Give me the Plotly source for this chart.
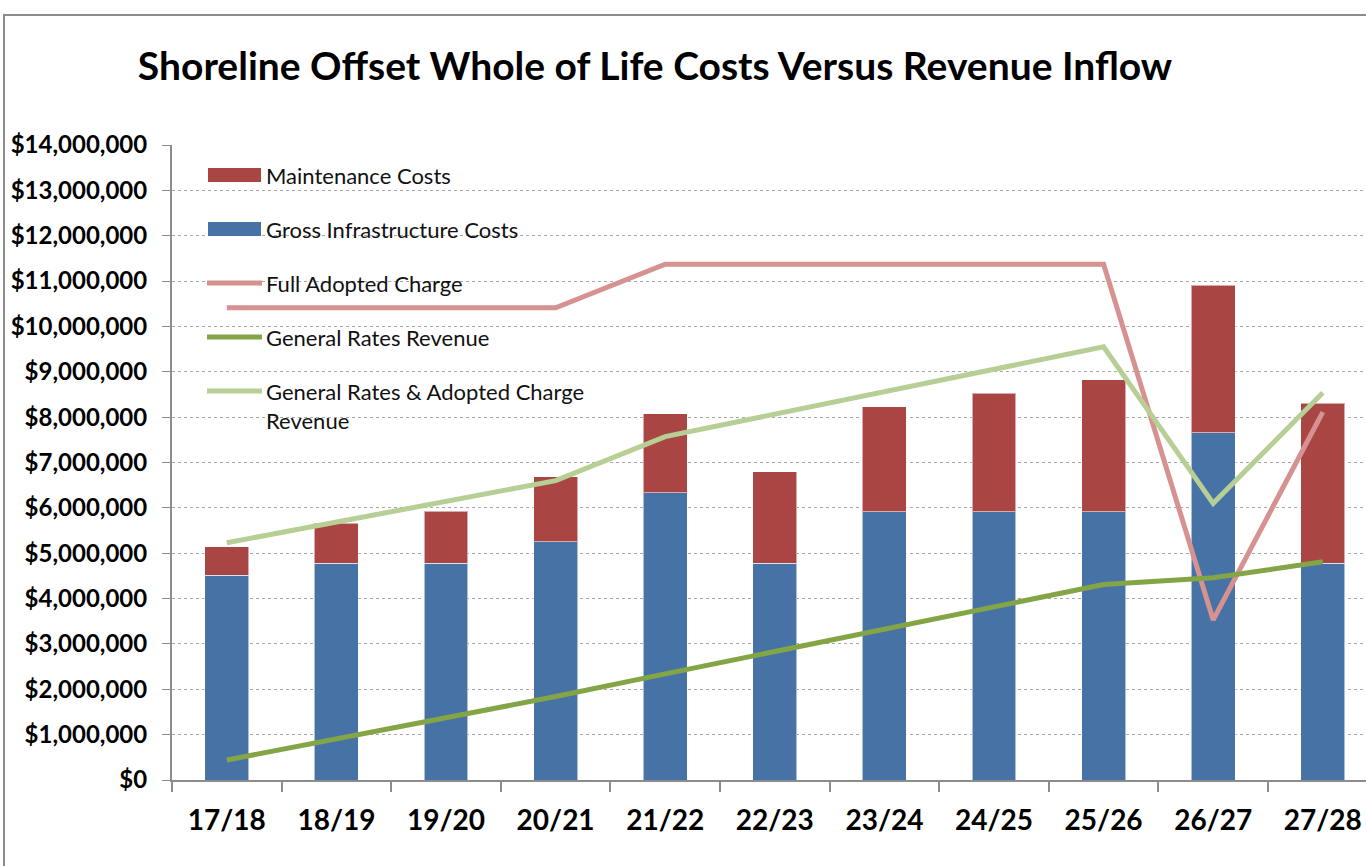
import plotly.graph_objects as go

# Financial years
years = ["17/18", "18/19", "19/20", "20/21", "21/22", "22/23",
         "23/24", "24/25", "25/26", "26/27", "27/28"]

# Stacked cost components ($)
gross_infrastructure = [4510000, 4780000, 4780000, 5250000, 6330000, 4780000,
                        5910000, 5910000, 5910000, 7660000, 4780000]
maintenance = [630000, 880000, 1150000, 1440000, 1750000, 2020000,
               2320000, 2620000, 2920000, 3250000, 3530000]

# Revenue lines ($)
full_adopted_charge = [10410000, 10410000, 10410000, 10410000, 11370000, 11370000,
                       11370000, 11370000, 11370000, 3530000, 8110000]
general_rates = [440000, 910000, 1370000, 1840000, 2340000, 2830000,
                 3340000, 3830000, 4310000, 4460000, 4810000]
rates_and_charge = [5230000, 5690000, 6140000, 6600000, 7570000, 8060000,
                    8560000, 9050000, 9550000, 6100000, 8540000]

BLUE = "#4672A6"
RED = "#A94644"
PINK = "#D69291"
DARK_GREEN = "#84A546"
LIGHT_GREEN = "#B7CE95"

W, H = 1366, 866
ML, MR, MT, MB = 172, 0, 145, 86
PW, PH = W - ML - MR, H - MT - MB

def px(x):
    return (x - ML) / PW

def py(y):
    return (H - MB - y) / PH

FONT = "Lato, 'Open Sans', sans-serif"

fig = go.Figure()

fig.add_trace(go.Bar(
    x=years, y=gross_infrastructure, name="Gross Infrastructure Costs",
    marker=dict(color=BLUE, line=dict(color="rgba(255,255,255,0.55)", width=1)),
    width=0.4,
))
fig.add_trace(go.Bar(
    x=years, y=maintenance, name="Maintenance Costs",
    marker=dict(color=RED, line=dict(color="rgba(255,255,255,0.55)", width=1)),
    width=0.4,
))
fig.add_trace(go.Scatter(
    x=years, y=full_adopted_charge, name="Full Adopted Charge", mode="lines",
    line=dict(color=PINK, width=5),
))
fig.add_trace(go.Scatter(
    x=years, y=general_rates, name="General Rates Revenue", mode="lines",
    line=dict(color=DARK_GREEN, width=5),
))
fig.add_trace(go.Scatter(
    x=years, y=rates_and_charge, name="General Rates & Adopted Charge Revenue",
    mode="lines", line=dict(color=LIGHT_GREEN, width=5),
))

# Hand-drawn key in the upper left of the plot area
legend_rows = [
    ("Maintenance Costs", "bar", RED, 175),
    ("Gross Infrastructure Costs", "bar", BLUE, 229),
    ("Full Adopted Charge", "line", PINK, 283),
    ("General Rates Revenue", "line", DARK_GREEN, 337),
    ("General Rates & Adopted Charge<br>Revenue", "line", LIGHT_GREEN, 391),
]
shapes = []
annotations = []
for label, kind, color, yc in legend_rows:
    if kind == "bar":
        shapes.append(dict(type="rect", xref="paper", yref="paper",
                           x0=px(208), x1=px(261), y0=py(yc + 7), y1=py(yc - 7),
                           fillcolor=color, line=dict(width=0)))
    else:
        shapes.append(dict(type="line", xref="paper", yref="paper",
                           x0=px(207), x1=px(262), y0=py(yc), y1=py(yc),
                           line=dict(color=color, width=5)))
    annotations.append(dict(
        xref="paper", yref="paper", x=px(264), y=py(yc - 15),
        xanchor="left", yanchor="top", align="left", showarrow=False,
        text=label, font=dict(family=FONT, size=22, color="#111111"),
    ))

# Outer chart frame
shapes.append(dict(type="rect", xref="paper", yref="paper", layer="below",
                   x0=px(4), x1=px(1400), y0=py(900), y1=py(15),
                   line=dict(color="#8C8C8C", width=2), fillcolor="rgba(0,0,0,0)"))

fig.update_layout(
    width=W, height=H,
    margin=dict(l=ML, r=MR, t=MT, b=MB),
    paper_bgcolor="white", plot_bgcolor="white",
    barmode="stack",
    showlegend=False,
    font=dict(family=FONT, color="black"),
    title=dict(
        text="<b>Shoreline Offset Whole of Life Costs Versus Revenue Inflow</b>",
        x=655 / W, xanchor="center", xref="container",
        y=1 - 66 / H, yanchor="middle", yref="container",
        font=dict(family=FONT, size=39, color="black"),
    ),
    shapes=shapes,
    annotations=annotations,
)

fig.update_xaxes(
    type="category", range=[-0.5, -0.5 + PW / 109.6],
    showgrid=False, showline=True, linecolor="#8C8C8C", linewidth=2,
    ticks="outside", tickson="boundaries", ticklen=10, tickcolor="#8C8C8C", tickwidth=2,
    tickfont=dict(family=FONT, size=28, color="black", weight="bold"),
    ticklabelstandoff=14,
)
fig.update_yaxes(
    range=[0, 14000000], dtick=1000000, tickformat=",.0f", tickprefix="$",
    showgrid=True, gridcolor="#A8A8A8", griddash="dot", gridwidth=1,
    showline=True, linecolor="#8C8C8C", linewidth=2,
    ticks="outside", ticklen=8, tickcolor="#8C8C8C", tickwidth=1,
    tickfont=dict(family=FONT, size=24, color="black", weight="bold"),
    ticklabelstandoff=10, zeroline=False,
)

fig.write_html("out.html")
